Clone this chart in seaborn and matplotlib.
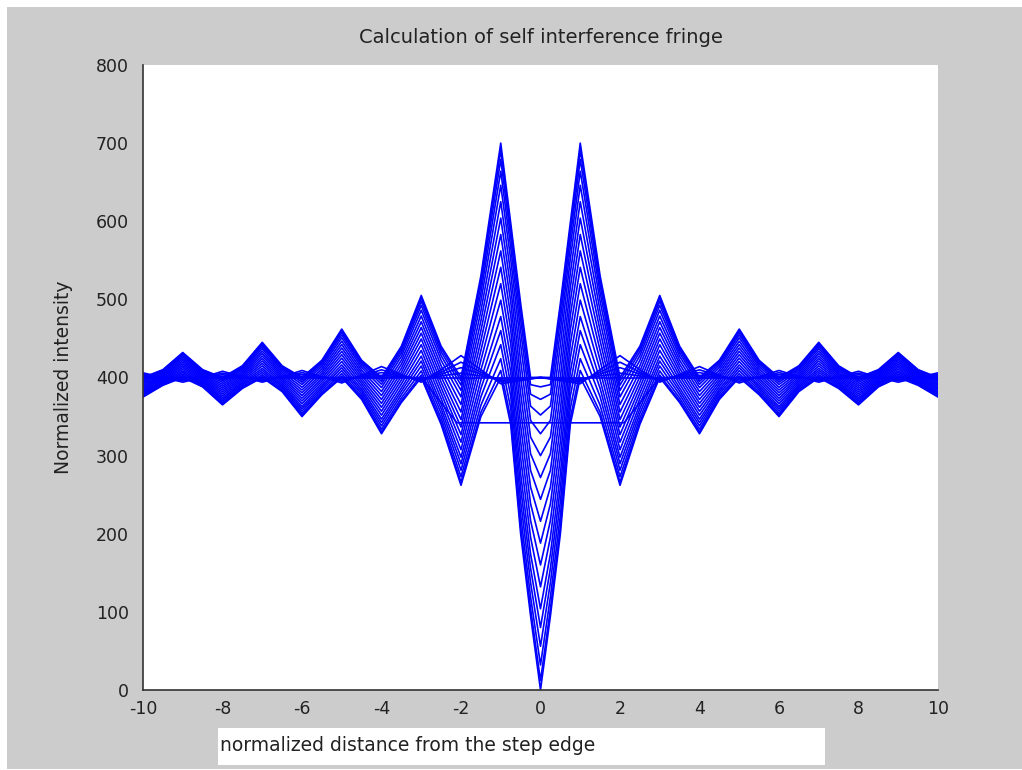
import numpy as np
import pandas as pd
import matplotlib
matplotlib.use("Agg")
import matplotlib.pyplot as plt
import seaborn as sns
from matplotlib.patches import Rectangle

# Sample positions on one side of the step edge (the fringe is mirror symmetric)
half_x = [0, 0.25, 0.5, 0.75, 1, 1.5, 2, 2.5, 3, 3.5, 4, 4.5, 5, 5.5,
          6, 6.5, 7, 7.5, 8, 8.5, 9, 9.5, 10]

# Bright-fringe component (maxima at odd positions)
peak_fringe = [400, 400, 495, 598, 700, 530, 400, 440, 505, 440, 400, 422,
               462, 422, 400, 415, 445, 415, 400, 410, 432, 410, 400]

# Dark-fringe component (minima at the edge and at even positions)
trough_fringe = [0, 95, 200, 340, 400, 350, 262, 340, 400, 368, 328, 372,
                 400, 378, 350, 382, 400, 386, 365, 388, 400, 390, 375]

# Weak fringe of opposite sign, for phase steps close to zero
weak_fringe = [400, 398, 396, 394, 392, 410, 428, 410, 394, 404, 414, 403,
               393, 401, 409, 401, 394, 401, 408, 400, 394, 400, 406]

# Unperturbed intensity level
background = 400

# Share of the bright / dark component in each computed phase step
peak_weights = [0.0, 0.03, 0.08, 0.14, 0.2, 0.26, 0.33, 0.4, 0.47, 0.54,
                0.61, 0.68, 0.75, 0.82, 0.88, 0.93, 0.97, 1.0, 0.0]
trough_weights = [1.0, 0.97, 0.92, 0.86, 0.8, 0.74, 0.67, 0.6, 0.53, 0.46,
                  0.39, 0.32, 0.25, 0.18, 0.12, 0.07, 0.03, 0.0, 0.0]
weak_weights = [1.0, 0.7, 0.45, 0.2]

# Flat partial curve through the centre region
plateau_x = [-10, -3, -2.1, 2.1, 3, 10]
plateau_y = [400, 400, 342, 342, 400, 400]

x_label = "normalized distance from the step edge"
y_label = "Normalized intensity"
title = "Calculation of self interference fringe"
x_ticks = list(range(-10, 11, 2))
y_ticks = list(range(0, 801, 100))


def mirror(xs, ys):
    xs_full = [-v for v in reversed(xs[1:])] + list(xs)
    ys_full = list(reversed(ys[1:])) + list(ys)
    return np.array(xs_full, float), np.array(ys_full, float)


xm, peak_m = mirror(half_x, peak_fringe)
_, trough_m = mirror(half_x, trough_fringe)
_, weak_m = mirror(half_x, weak_fringe)

rows = []
cid = 0
for wp, wt in zip(peak_weights, trough_weights):
    yv = background + wp * (peak_m - background) + wt * (trough_m - background)
    rows += [dict(curve=cid, x=a, intensity=b) for a, b in zip(xm, yv)]
    cid += 1
for w in weak_weights:
    yv = background + w * (weak_m - background)
    rows += [dict(curve=cid, x=a, intensity=b) for a, b in zip(xm, yv)]
    cid += 1
rows += [dict(curve=cid, x=a, intensity=b) for a, b in zip(plateau_x, plateau_y)]
df = pd.DataFrame(rows)

sns.set_style("white")
plt.rcParams["font.family"] = ["DejaVu Sans"]

W, H = 1022, 770
fig = plt.figure(figsize=(W / 100, H / 100), dpi=100, facecolor="white")
fig.add_artist(Rectangle((7 / W, 1.5 / H), (W - 7) / W, (763 - 1.5) / H,
                         transform=fig.transFigure, facecolor="#cccccc",
                         edgecolor="none", zorder=-10))

ax = fig.add_axes([143 / W, 1 - 690 / H, (938 - 143) / W, (690 - 65) / H])
ax.set_facecolor("white")

sns.lineplot(data=df, x="x", y="intensity", units="curve", estimator=None,
             sort=False, color="#0000ff", linewidth=1.2, ax=ax, legend=False)

ax.set_xlim(-10, 10)
ax.set_ylim(0, 800)
ax.set_xticks(x_ticks)
ax.set_yticks(y_ticks)
ax.set_xticklabels([str(t) for t in x_ticks])
ax.set_yticklabels([str(t) for t in y_ticks])
ax.tick_params(axis="both", direction="in", length=6, width=1.0,
               colors="#222222", labelsize=12.5)
ax.tick_params(axis="x", pad=7)
ax.tick_params(axis="y", pad=10)
sns.despine(ax=ax)
for s in ("left", "bottom"):
    ax.spines[s].set_color("#333333")
    ax.spines[s].set_linewidth(1.2)

ax.set_xlabel("")
ax.set_ylabel(y_label, fontsize=13.5, color="#222222")
ax.yaxis.set_label_coords(-0.088, 0.5)
ax.set_title(title, fontsize=14, color="#222222", pad=16)

fig.add_artist(Rectangle((218 / W, 1 - 765 / H), (825 - 218) / W, (765 - 728) / H,
                         transform=fig.transFigure, facecolor="white",
                         edgecolor="none", zorder=1))
fig.text(220 / W, 1 - 751 / H, x_label, fontsize=13.5, color="#222222",
         ha="left", va="baseline", zorder=2)

fig.savefig("out.png", dpi=100, facecolor=fig.get_facecolor())
